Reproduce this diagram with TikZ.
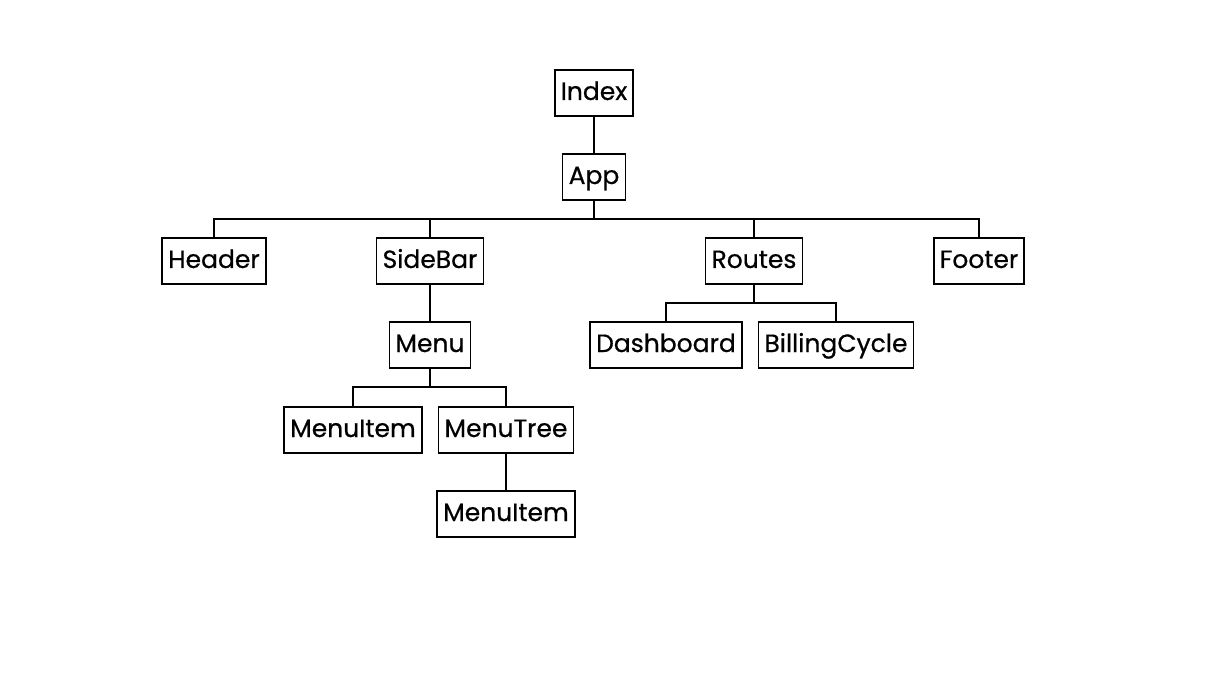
\documentclass[tikz,border=0pt]{standalone}
\usepackage{fontspec}
\setmainfont{Poppins}[FakeBold=0.6]
\usepackage{tikz}
\usetikzlibrary{positioning}
\tikzset{%
  comp/.style={draw,line width=0.8pt,minimum height=23pt,inner xsep=3pt,
    text height=0.85em,text depth=0.15em,font=\fontsize{12.5}{14}\selectfont},
  wire/.style={line width=0.8pt},
}

\begin{document}
\begin{tikzpicture}[x=0.5pt,y=-0.5pt]
      \useasboundingbox (0,0) rectangle (1219,673);

      \node[comp] (index) at (594,93) {Index};
      \node[comp] (app) at (594,177) {App};
      \node[comp] (header) at (214,261) {Header};
      \node[comp] (sidebar) at (430,261) {SideBar};
      \node[comp] (routes) at (754,261) {Routes};
      \node[comp] (footer) at (979,261) {Footer};
      \node[comp] (menu) at (430,345) {Menu};
      \node[comp] (dashboard) at (666,345) {Dashboard};
      \node[comp] (billing) at (836,345) {BillingCycle};
      \node[comp] (item) at (353,430) {MenuItem};
      \node[comp] (tree) at (506,430) {MenuTree};
      \node[comp] (subitem) at (506,514) {MenuItem};

      \coordinate (appbus) at (594,219);
      \coordinate (routesbus) at (754,303);
      \coordinate (menubus) at (430,387);

      \draw[wire] (index) -- (app);
      \draw[wire] (app) -- (appbus);
      \foreach \c in {header,sidebar,routes,footer}
        \draw[wire] (appbus) -| (\c);
      \draw[wire] (sidebar) -- (menu);
      \draw[wire] (routes) -- (routesbus);
      \foreach \c in {dashboard,billing}
        \draw[wire] (routesbus) -| (\c);
      \draw[wire] (menu) -- (menubus);
      \foreach \c in {item,tree}
        \draw[wire] (menubus) -| (\c);
      \draw[wire] (tree) -- (subitem);
    \end{tikzpicture}
\end{document}
